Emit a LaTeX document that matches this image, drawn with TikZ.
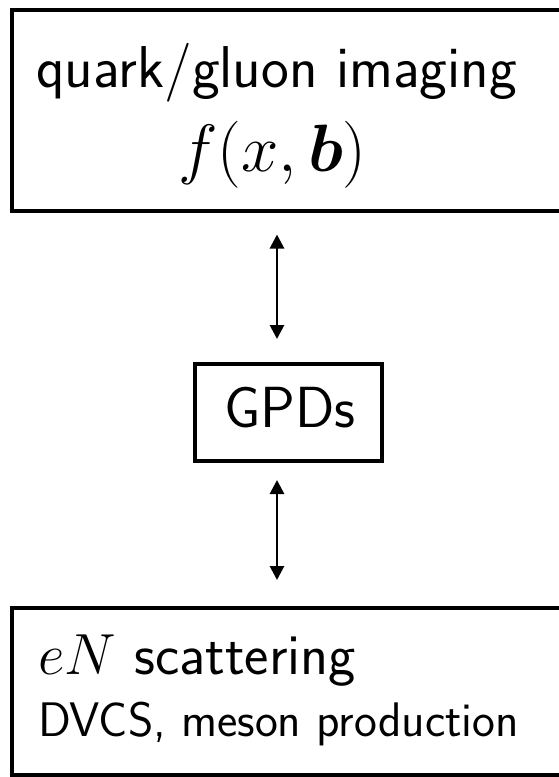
\RequirePackage{fix-cm}
\documentclass[tikz,border=0pt]{standalone}
\usepackage{bm}
\usetikzlibrary{arrows.meta}
\renewcommand{\familydefault}{\sfdefault}
\begin{document}
\begin{tikzpicture}[x=1pt,y=-1pt,
  boxstyle/.style={draw,line width=4pt,rectangle,inner sep=0pt},
  conn/.style={line width=2.8pt,{Triangle[width=14pt,length=14pt]}-{Triangle[width=14pt,length=14pt]}},
  lbl/.style={anchor=base west,inner sep=0pt}]
\useasboundingbox (0,0) rectangle (559,777);
\node[boxstyle,minimum width=563pt,minimum height=201pt] (top) at (293,110) {};
\node[boxstyle,minimum width=187pt,minimum height=97pt] (gpd) at (288,412.5) {};
\node[boxstyle,minimum width=563pt,minimum height=166.5pt] (bot) at (293,691.25) {};
\coordinate (ax) at (277,0);
\draw[conn,shorten <=22pt,shorten >=23pt] (top.south -| ax) -- (gpd.north -| ax);
\draw[conn,shorten <=17pt,shorten >=26pt] (gpd.south -| ax) -- (bot.north -| ax);
\node[lbl] (t1) at (36,87) {\fontsize{59}{70}\selectfont quark/gluon imaging};
\node[lbl] (t2) at (178,171) {\fontsize{67}{76}\selectfont $f(x,\bm{b})$};
\node[lbl] (t3) at (224,427) {\fontsize{58}{66}\selectfont GPDs};
\node[lbl] (t4) at (38,674) {\fontsize{58}{66}\selectfont $eN$ scattering};
\node[lbl] (t5) at (38,736) {\fontsize{48.5}{56}\selectfont DVCS, meson production};
\end{tikzpicture}
\end{document}
